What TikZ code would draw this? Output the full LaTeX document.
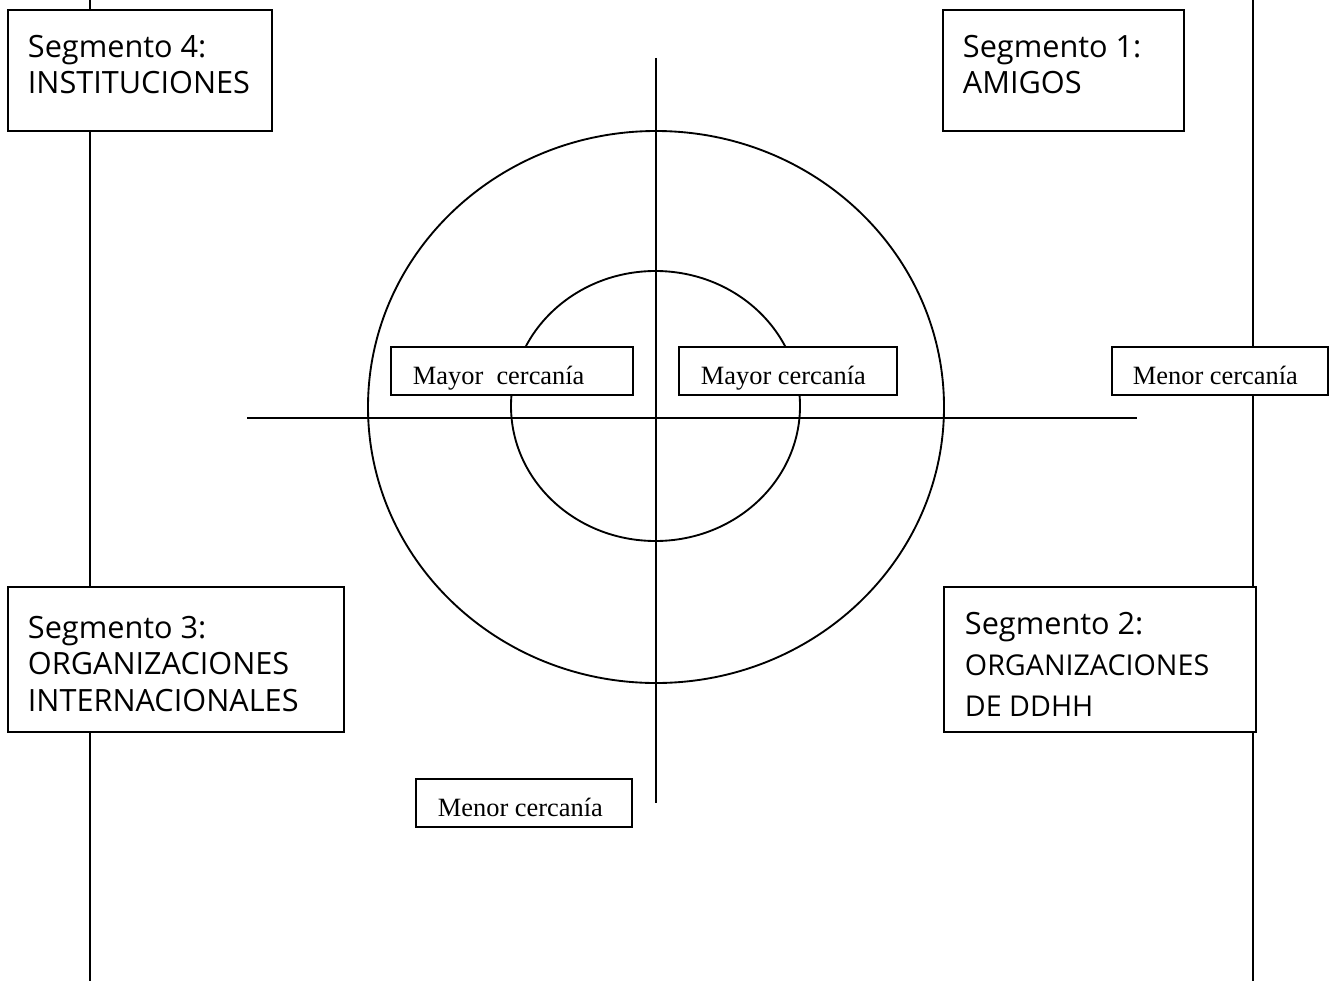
\documentclass[tikz,border=0pt]{standalone}
\usepackage{fontspec}
\setmainfont{Liberation Serif}
\newfontfamily\segfont{Open Sans}

\begin{document}
\begin{tikzpicture}[x=0.75pt, y=-0.75pt, line width=1.4pt,
    segbox/.style={draw, fill=white},
    segtext/.style={anchor=north west, inner sep=0pt, align=left,
        font=\segfont\fontsize{23}{27.5}\selectfont},
    cercatext/.style={anchor=base west, inner sep=0pt,
        font=\fontsize{19.8}{23}\selectfont}]

    \useasboundingbox (0, 0) rectangle (1330, 981);

    % Long vertical lines at both sides
    \draw (90, 0) -- (90, 981);
    \draw (1253, 0) -- (1253, 981);

    % Axes
    \draw (656, 58) -- (656, 803); % Vertical axis
    \draw (247, 418) -- (1137, 418); % Horizontal axis

    % Circles (outer and inner)
    \draw (656, 407) ellipse [x radius=288, y radius=276];
    \draw (655.5, 406) ellipse [x radius=144.5, y radius=135];

    % Segment boxes
    \filldraw[segbox] (8, 10) rectangle (272, 131); % Top-left
    \filldraw[segbox] (943, 10) rectangle (1184, 131); % Top-right
    \filldraw[segbox] (8, 587) rectangle (344, 732); % Bottom-left
    \filldraw[segbox] (944, 587) rectangle (1256, 732); % Bottom-right

    % Labels for segment boxes
    \node[segtext] (seg4) at (27, 34) {Segmento 4:\\INSTITUCIONES};
    \node[segtext] (seg1) at (962, 34) {Segmento 1:\\AMIGOS};
    \node[segtext, font=\segfont\fontsize{23}{27.5}\selectfont] (seg3) at (27, 615)
        {Segmento 3:\\ORGANIZACIONES\\INTERNACIONALES};
    \node[segtext, font=\segfont\fontsize{23}{31}\selectfont] (seg2) at (964, 611)
        {Segmento 2:\\{\fontsize{21.5}{31}\selectfont ORGANIZACIONES}\\{\fontsize{21.5}{31}\selectfont DE DDHH}};

    % Closeness boxes
    \filldraw[segbox] (391, 347) rectangle (633, 395); % Left, near
    \filldraw[segbox] (679, 347) rectangle (897, 395); % Right, near
    \filldraw[segbox] (1112, 347) rectangle (1328, 395); % Far right
    \filldraw[segbox] (416, 779) rectangle (632, 827); % Far bottom

    % Labels for closeness boxes
    \node[cercatext] (mayor1) at (412, 384) {Mayor\ \ cercanía};
    \node[cercatext] (mayor2) at (700, 384) {Mayor cercanía};
    \node[cercatext] (menor1) at (1132, 384) {Menor cercanía};
    \node[cercatext] (menor2) at (437, 816) {Menor cercanía};

\end{tikzpicture}
\end{document}
